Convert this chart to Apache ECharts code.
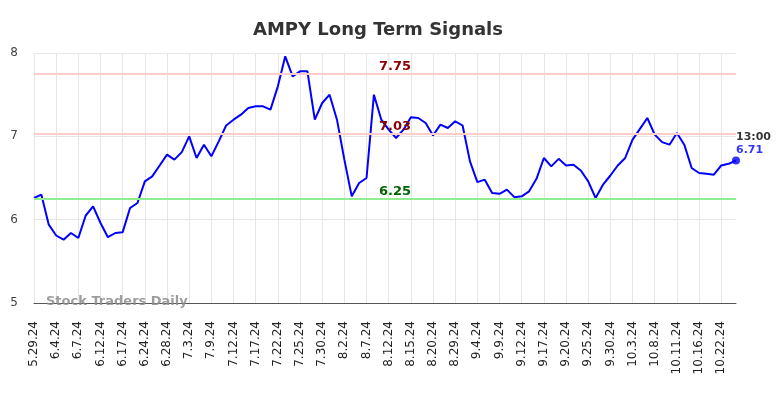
<!DOCTYPE html>
<html lang="en">
<head>
    <meta charset="UTF-8">
    <title>AMPY Long Term Signals</title>
    <script src="https://cdn.jsdelivr.net/npm/echarts@6/dist/echarts.min.js"></script>
    <style>
        html, body { margin: 0; padding: 0; background: #fff; }
    </style>
</head>
<body>
    <div id="main" style="width: 784px;height:398px;"></div>
    <script type="text/javascript">
        var myChart = echarts.init(document.getElementById('main'));

        // tick labels, one every 3 sessions
        let tickLabels = ['5.29.24', '6.4.24', '6.7.24', '6.12.24', '6.17.24', '6.24.24', '6.28.24', '7.3.24',
            '7.9.24', '7.12.24', '7.17.24', '7.22.24', '7.25.24', '7.30.24', '8.2.24', '8.7.24',
            '8.12.24', '8.15.24', '8.20.24', '8.29.24', '9.4.24', '9.9.24', '9.12.24', '9.17.24',
            '9.20.24', '9.25.24', '9.30.24', '10.3.24', '10.8.24', '10.11.24', '10.16.24', '10.22.24'];

        // closing prices
        let prices = [
            6.26, 6.30, 5.94, 5.81, 5.76, 5.84, 5.78, 6.05, 6.16, 5.96,
            5.79, 5.84, 5.85, 6.14, 6.20, 6.46, 6.52, 6.65, 6.78, 6.72,
            6.81, 7.00, 6.74, 6.90, 6.76, 6.94, 7.13, 7.20, 7.26, 7.34,
            7.36, 7.36, 7.32, 7.60, 7.96, 7.72, 7.78, 7.78, 7.20, 7.40,
            7.50, 7.20, 6.72, 6.28, 6.44, 6.50, 7.50, 7.20, 7.08, 6.98,
            7.08, 7.23, 7.22, 7.16, 7.01, 7.14, 7.10, 7.18, 7.13, 6.70,
            6.45, 6.48, 6.32, 6.31, 6.36, 6.27, 6.28, 6.34, 6.49, 6.74,
            6.64, 6.73, 6.65, 6.66, 6.59, 6.46, 6.26, 6.42, 6.53, 6.65,
            6.74, 6.96, 7.09, 7.22, 7.02, 6.93, 6.90, 7.04, 6.90, 6.62,
            6.56, 6.55, 6.54, 6.65, 6.67, 6.71
        ];

        // signal levels: resistance, resistance, support
        let signalLevels = [7.75, 7.03, 6.25];
        let lastTime = '13:00';

        let categories = prices.map((v, i) => i % 3 === 0 ? tickLabels[i / 3] : '');
        let lastIdx = prices.length - 1;
        let everyThird = (i) => i % 3 === 0;

        let levelStyle = [
            {line: '#ffcccc', text: '#8b0000'},
            {line: '#ffcccc', text: '#8b0000'},
            {line: '#90ee90', text: '#006400'},
        ];

        let option = {
            animation: false,
            textStyle: {fontFamily: 'DejaVu Sans'},
            title: {
                text: 'AMPY Long Term Signals',
                left: 248,
                top: 16,
                textStyle: {fontSize: 18, fontWeight: 'bold', color: '#333', fontFamily: 'DejaVu Sans'},
            },
            grid: {left: 34, right: 48, top: 53, bottom: 95},
            xAxis: {
                type: 'category',
                boundaryGap: false,
                data: categories,
                axisTick: {show: false},
                axisLine: {lineStyle: {color: '#555', width: 1}},
                axisLabel: {
                    rotate: 90,
                    interval: everyThird,
                    fontSize: 12,
                    color: '#222',
                    margin: 18,
                },
                splitLine: {
                    show: true,
                    interval: everyThird,
                    lineStyle: {color: '#e6e6e6', width: 1},
                },
            },
            yAxis: {
                type: 'value',
                min: 5,
                max: 8,
                interval: 1,
                axisLine: {show: false},
                axisTick: {show: false},
                axisLabel: {fontSize: 12, color: '#444', margin: 16},
                splitLine: {lineStyle: {color: '#e6e6e6', width: 1}},
            },
            graphic: [{
                type: 'text',
                left: 46,
                top: 295,
                z: 10,
                style: {
                    text: 'Stock Traders Daily',
                    font: 'bold 13px "DejaVu Sans"',
                    fill: 'rgba(140, 140, 140, 0.85)',
                },
            }],
            series: [
                {
                    name: 'price',
                    type: 'line',
                    data: prices,
                    showSymbol: false,
                    symbol: 'none',
                    lineStyle: {color: '#0000ff', width: 2},
                    markLine: {
                        silent: true,
                        symbol: 'none',
                        data: signalLevels.map((lv, k) => ({
                            yAxis: lv,
                            lineStyle: {color: levelStyle[k].line, width: 2, type: 'solid'},
                            label: {
                                show: true,
                                position: 'insideMiddleTop',
                                distance: 1,
                                offset: [10, 0],
                                formatter: (p) => p.value.toFixed(2),
                                color: levelStyle[k].text,
                                fontWeight: 'bold',
                                fontSize: 13,
                            },
                        })),
                    },
                },
                {
                    name: 'last',
                    type: 'scatter',
                    data: [[lastIdx, prices[lastIdx]]],
                    symbol: 'circle',
                    symbolSize: 8,
                    itemStyle: {color: '#0000ff'},
                    label: {
                        show: true,
                        position: [4, -26],
                        align: 'left',
                        formatter: () => '{t|' + lastTime + '}\n{v|' + prices[lastIdx].toFixed(2) + '}',
                        rich: {
                            t: {color: '#000', fontWeight: 'bold', fontSize: 11, lineHeight: 13},
                            v: {color: '#0000ff', fontWeight: 'bold', fontSize: 11, lineHeight: 13},
                        },
                    },
                },
            ],
        };

        myChart.setOption(option);
    </script>
</body>
</html>
